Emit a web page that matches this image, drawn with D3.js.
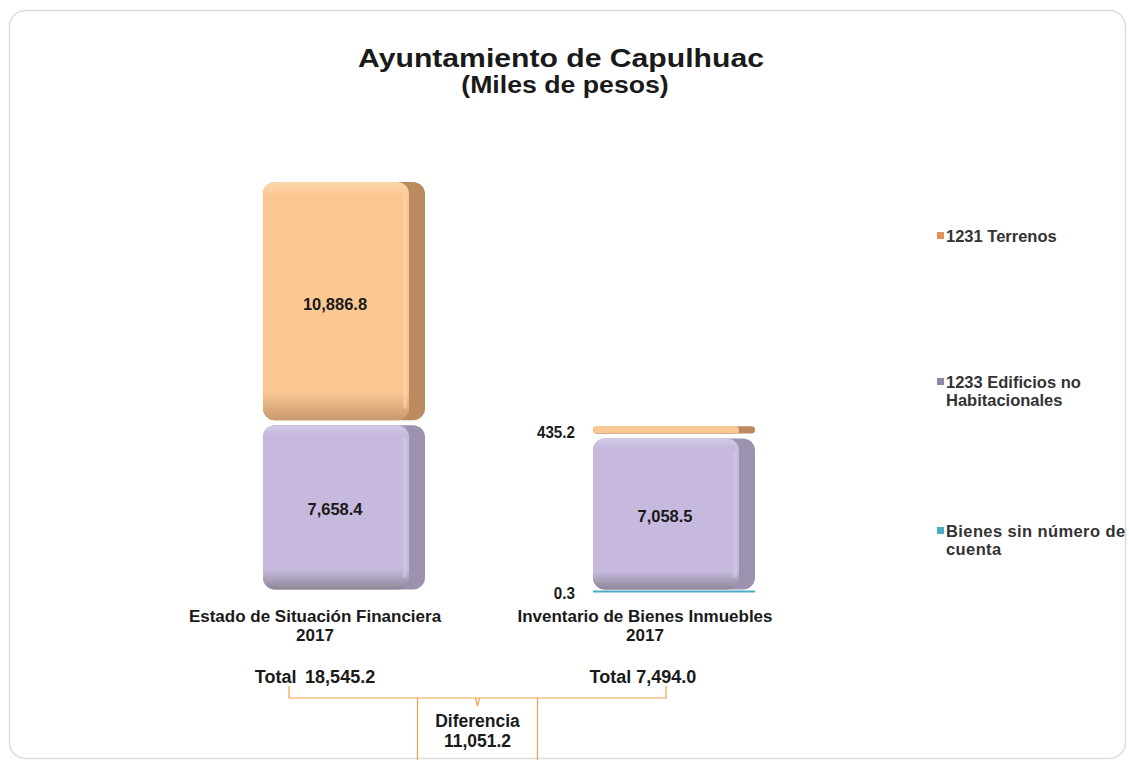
<!DOCTYPE html>
<html lang="es">
<head>
<meta charset="UTF-8">
<title>Ayuntamiento de Capulhuac</title>
<script src="https://cdn.jsdelivr.net/npm/d3@7"></script>
<style>
  body { margin: 0; background: #fff; }
  svg text { font-family: "Liberation Sans", Arial, sans-serif; font-weight: bold; fill: #1a1a1a; white-space: pre; }
</style>
</head>
<body>
<div id="chart"></div>
<script>
// --- data ---
var categories = ["Estado de Situación Financiera|2017", "Inventario de Bienes Inmuebles|2017"];
var seriesNames = ["Bienes sin número de|cuenta", "1233 Edificios no|Habitacionales", "1231 Terrenos"];
var bienesSinCuenta = [0, 0.3];
var edificios = [7658.4, 7058.5];
var terrenos = [10886.8, 435.2];

var W = 1129, H = 760;
var svg = d3.select("#chart").append("svg").attr("width", W).attr("height", H);

// text helper: lines split by "|", optional horizontal squeeze / stretch
function label(x, y, str, size, opt) {
  opt = opt || {};
  var g = svg.append("g").attr("transform", "translate(" + x + "," + y + ") scale(" + (opt.sx || 1) + ",1)");
  var t = g.append("text").attr("text-anchor", opt.anchor || "middle").style("font-size", size + "px");
  if (opt.fill) t.style("fill", opt.fill);
  if (opt.ls) t.style("letter-spacing", opt.ls + "px");
  str.split("|").forEach(function(p, i){
    t.append("tspan").attr("x", 0).attr("y", i * (opt.lh || size * 1.1)).attr("dy", opt.dy || 0).text(p);
  });
  return t;
}

// frame
svg.append("rect").attr("x", 9.5).attr("y", 10.5).attr("width", 1116).attr("height", 748)
  .attr("rx", 16).attr("fill", "#fff").attr("stroke", "#dcdcdc").attr("stroke-width", 1.5);

// title
label(561, 67, "Ayuntamiento de Capulhuac", 26, { sx: 1.16 });
label(565, 93, "(Miles de pesos)", 23, { sx: 1.16 });

var rows = categories.map(function(c, i){
  return { cat: c, s0: bienesSinCuenta[i], s1: edificios[i], s2: terrenos[i] };
});
var stack = d3.stack().keys(["s0", "s1", "s2"]);
var layers = stack(rows);
var totals = rows.map(function(r){ return r.s0 + r.s1 + r.s2; });

var x = d3.scaleBand().domain(categories).range([263, 755]).paddingInner(0.509).paddingOuter(0);
var y = d3.scaleLinear().domain([0, d3.max(totals)]).range([592, 182]);
var depth = 20;

var colors = [
  { front: "#4BACC6", light: "#8fd0e0", side: "#3a8da3", dark: "#357f93", marker: "#4BACC6" },
  { front: "#C6B9DD", light: "#d5cbe8", side: "#9c91ae", dark: "#8d8697", marker: "#9086a8" },
  { front: "#FBC793", light: "#fdd7ae", side: "#bb8b5f", dark: "#c99a70", marker: "#e0925a" }
];

var defs = svg.append("defs");
colors.forEach(function(c, i){
  var g = defs.append("linearGradient").attr("id", "gf" + i).attr("x1", 0).attr("y1", 0).attr("x2", 0).attr("y2", 1);
  g.append("stop").attr("offset", "0%").attr("stop-color", c.light);
  g.append("stop").attr("offset", "6%").attr("stop-color", c.front);
  g.append("stop").attr("offset", "88%").attr("stop-color", c.front);
  g.append("stop").attr("offset", "100%").attr("stop-color", c.dark);
});

var fmt = d3.format(",.1f");

layers.forEach(function(layer, li){
  var c = colors[li];
  var g = svg.append("g");
  layer.forEach(function(d){
    var cat = d.data.cat;
    var x0 = x(cat), bw = x.bandwidth();
    var yt = y(d[1]), yb = y(d[0]);
    var h = yb - yt;
    if (d[1] - d[0] <= 0) return;
    if (li === 0) {
      // thin line for tiny value
      g.append("rect").attr("x", x0).attr("y", yb - 1.5).attr("width", bw).attr("height", 2)
        .attr("fill", c.front);
    } else {
      var top = yt + (li === 2 ? 0 : 2.5), bot = yb - 2.5;
      var hh = Math.max(bot - top, 2);
      var r = Math.min(12, hh / 2);
      g.append("rect").attr("x", x0).attr("y", top).attr("width", bw).attr("height", hh)
        .attr("rx", r).attr("ry", r).attr("fill", c.side);
      g.append("rect").attr("x", x0).attr("y", top).attr("width", bw - depth + 4).attr("height", hh)
        .attr("rx", r).attr("ry", r).attr("fill", "url(#gf" + li + ")");
      // soft bevel at the edge between front and side
      if (hh > 30) {
        g.append("rect").attr("x", x0 + bw - depth - 2).attr("y", top + r).attr("width", 4).attr("height", hh - 2 * r)
          .attr("fill", c.light).attr("opacity", 0.5);
      }
    }
    // value label
    var v = d[1] - d[0];
    if (h < 20) {
      label(x0 - 18, li === 0 ? yb + 1 : (yt + yb) / 2 + 1, fmt(v), 16, { anchor: "end", dy: "0.35em", sx: 0.95 });
    } else {
      label(x0 + (bw - depth) / 2 + 1, (yt + yb) / 2 + 2, fmt(v), 16.5, { dy: "0.35em" });
    }
  });
});

// category labels
var cx = categories.map(function(cat){ return x(cat) + 52; });
categories.forEach(function(cat, i){
  label(cx[i], 622, cat, 17, { sx: 1.0, lh: 19 });
});

// totals and difference
label(cx[0], 683, "Total\u2009 " + fmt(totals[0]), 18);
label(cx[1] - 2, 683, "Total " + fmt(totals[1]), 18);

var br = svg.append("g").attr("fill", "none").attr("stroke", "#f0a24a").attr("stroke-width", 1.2);
var bl = cx[0] - 26, brx = cx[1] + 21, by = 698, mid = (bl + brx) / 2;
br.append("path").attr("d", "M" + bl + ",686 V" + by + " H" + brx + " V686");
br.append("path").attr("d", "M" + (mid - 2) + "," + by + " L" + mid + "," + (by + 8) + " L" + (mid + 2) + "," + by);
br.append("path").attr("d", "M" + (mid - 60) + "," + by + " V760 M" + (mid + 60) + "," + by + " V760");

label(mid, 727, "Diferencia|" + fmt(totals[0] - totals[1]), 17.5, { lh: 20 });

// legend (top to bottom)
var legendY = [236, 382, 531];
[2, 1, 0].forEach(function(si, k){
  svg.append("rect").attr("x", 937).attr("y", legendY[k] - 4).attr("width", 7).attr("height", 7)
    .attr("fill", colors[si].marker);
  label(946, legendY[k], seriesNames[si], 16.5, { anchor: "start", dy: "0.35em", lh: 18, fill: "#333", ls: si === 0 ? 0.4 : 0 });
});
</script>
</body>
</html>
